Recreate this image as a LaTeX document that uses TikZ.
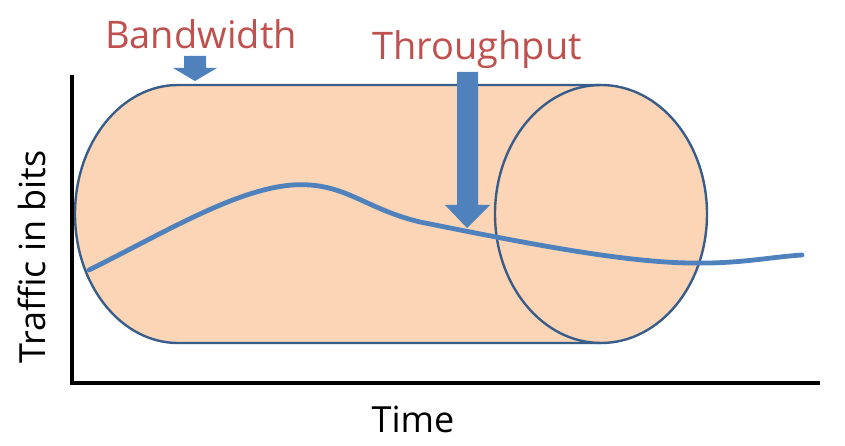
\documentclass[tikz,border=0pt]{standalone}
\usepackage{fontspec}
\setmainfont{Open Sans}
\definecolor{peach}{HTML}{FBD5B5}
\definecolor{edge}{HTML}{385D8A}
\definecolor{accblue}{HTML}{4F81BD}
\definecolor{txtred}{HTML}{C0504D}
\begin{document}
\begin{tikzpicture}[x=1pt,y=-1pt,
  lbl/.style={font=\fontsize{36}{40}\selectfont, inner sep=0pt, anchor=base},
  redlbl/.style={lbl, font=\fontsize{38}{42}\selectfont, text=txtred},
  axis/.style={line width=4pt, black},
  rim/.style={draw=edge, line width=2.4pt},
  fatarrow/.style={fill=accblue, draw=none}]
\useasboundingbox (0,0) rectangle (845,446);
% cylinder body
\fill[peach] (178,85) arc[start angle=90, end angle=270, x radius=103pt, y radius=129pt]
  -- (601,343) -- (601,85) -- cycle;
\fill[peach] (601,214) ellipse[x radius=106pt, y radius=129pt];
\draw[rim, line cap=round] (601,85) -- (178,85) arc[start angle=90, end angle=270, x radius=103pt, y radius=129pt] -- (601,343);
\draw[rim] (601,214) ellipse[x radius=106pt, y radius=129pt];
% traffic curve
\draw[accblue, line width=4.8pt, line cap=round] (89,270)
  .. controls (170,230) and (250,180) .. (310,185)
  .. controls (350,188) and (370,210) .. (420,222)
  .. controls (520,242) and (620,262) .. (690,263)
  .. controls (740,264) and (770,257) .. (802,255);
% arrows
\fill[fatarrow] (457,72) -- (478,72) -- (478,205) -- (490,205) -- (467,228) -- (445,205) -- (457,205) -- cycle;
\fill[fatarrow] (184,56) -- (206,56) -- (206,68) -- (217,68) -- (195,81) -- (173,68) -- (184,68) -- cycle;
% axes
\coordinate (origin) at (72,383);
\coordinate (ytop) at (72,75);
\coordinate (xend) at (820,383);
\draw[axis] (ytop) -- (origin) -- (xend);
% labels
\node[redlbl] (bw) at (201,49) {Bandwidth};
\node[redlbl] (tp) at (477,60) {Throughput};
\node[lbl, rotate=90] (ylab) at (45,257) {Traffic in bits};
\node[lbl] (xlab) at (413,432) {Time};
\end{tikzpicture}
\end{document}
